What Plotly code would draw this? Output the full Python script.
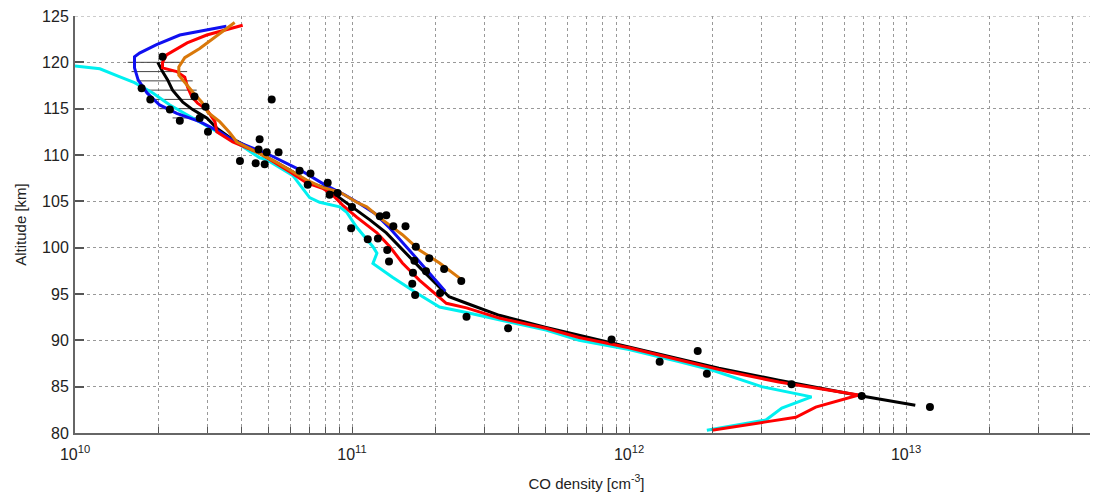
import plotly.graph_objects as go

# ---- data ----
blue_x = [3.52e10, 2.39e10, 1.97e10, 1.71e10, 1.64e10, 1.64e10, 1.69e10, 1.82e10, 2.02e10, 2.33e10,
          2.82e10, 3.33e10, 3.71e10, 3.94e10, 5.05e10, 6.48e10, 7.96e10, 9.4e10, 1.06e11, 1.21e11,
          1.37e11, 1.55e11, 1.75e11, 1.98e11, 2.17e11]
blue_y = [123.9, 122.95, 121.9, 121.0, 120.6, 119.4, 118.1, 116.7, 115.4, 114.5,
          113.6, 112.5, 111.6, 111.3, 110.0, 108.4, 106.8, 105.7, 104.8, 103.7,
          102.1, 100.3, 98.5, 96.7, 95.3]

orange_x = [3.77e10, 3.25e10, 2.82e10, 2.49e10, 2.37e10, 2.37e10, 2.49e10, 2.66e10, 2.87e10, 3.02e10,
            3.33e10, 3.62e10, 3.84e10, 4.38e10, 5.35e10, 6.86e10, 7.83e10, 9.02e10, 1.04e11, 1.13e11,
            1.29e11, 1.52e11, 1.75e11, 2.07e11, 2.5e11]
orange_y = [124.3, 122.9, 121.5, 120.5, 119.5, 118.6, 117.8, 116.8, 115.7, 114.6,
            113.6, 112.4, 111.4, 110.5, 109.2, 107.3, 106.5, 106.0, 104.9, 104.4,
            103.0, 101.4, 99.75, 98.35, 96.5]

red_x = [4.03e10, 3.52e10, 2.99e10, 2.54e10, 2.14e10, 2.07e10, 2.07e10, 2.33e10, 2.49e10, 2.55e10,
         2.64e10, 2.77e10, 2.99e10, 3.2e10, 3.25e10, 3.71e10, 4.64e10, 5.96e10, 6.86e10, 7.83e10,
         8.51e10, 9.25e10, 1.04e11, 1.23e11, 1.37e11, 1.52e11, 1.75e11, 2.19e11, 2.59e11, 3.4e11,
         5.02e11, 6.6e11, 1.0e12, 1.51e12, 2.29e12, 3.47e12, 5.25e12, 6.75e12, 4.72e12, 4.0e12,
         3.12e12, 1.99e12]
red_y = [124.0, 123.5, 122.95, 122.1, 120.8, 120.0, 119.4, 119.0, 118.4, 117.3,
         116.3, 115.6, 114.9, 113.6, 112.5, 111.4, 110.2, 108.2, 107.0, 106.4,
         105.7, 104.6, 103.3, 101.6, 100.1, 98.35, 96.5, 94.0, 93.5, 92.4,
         91.3, 90.3, 89.2, 87.9, 86.6, 85.5, 84.6, 84.1, 82.8, 81.7,
         81.2, 80.3]

black_x = [1.99e10, 2.07e10, 2.16e10, 2.25e10, 2.45e10, 2.66e10, 2.99e10, 3.25e10, 3.62e10, 4.64e10,
           6.11e10, 7.03e10, 8.09e10, 9.02e10, 1.04e11, 1.16e11, 1.33e11, 1.52e11, 1.75e11, 1.95e11,
           2.24e11, 2.59e11, 3.4e11, 5.02e11, 1.0e12, 2.11e12, 3.47e12, 6.92e12, 1.08e13]
black_y = [120.0, 119.0, 118.1, 117.0, 115.7, 114.9, 114.0, 112.9, 111.9, 110.2,
           108.2, 107.0, 106.4, 105.4, 104.1, 103.0, 101.6, 99.75, 97.9, 96.5,
           94.7, 94.0, 92.7, 91.4, 89.3, 87.0, 85.7, 84.0, 83.0]

cyan_x = [1.0e10, 1.23e10, 1.43e10, 1.64e10, 1.91e10, 2.2e10, 2.66e10, 3.25e10, 3.94e10, 4.64e10,
          4.92e10, 6.11e10, 7.03e10, 7.64e10, 9.02e10, 9.55e10, 1.04e11, 1.19e11, 1.23e11, 1.19e11,
          1.4e11, 1.71e11, 2.07e11, 2.59e11, 3.4e11, 5.02e11, 6.6e11, 1.0e12, 1.51e12, 1.99e12,
          3.01e12, 4.56e12, 3.56e12, 3.12e12, 1.91e12]
cyan_y = [119.6, 119.3, 118.5, 117.8, 116.7, 115.4, 114.0, 112.5, 111.1, 109.7,
          109.5, 107.8, 105.4, 104.9, 104.4, 103.85, 102.2, 100.1, 99.4, 98.3,
          96.8, 95.1, 93.6, 93.0, 92.2, 91.1, 90.0, 89.0, 87.7, 86.8,
          85.0, 83.9, 82.7, 81.4, 80.3]

# horizontal error bars on the black profile
err_alt = [120, 119, 118, 117, 116, 115, 114]
err_lo = [1.55e10, 1.6e10, 1.67e10, 1.76e10, 1.86e10, 2.02e10, 2.25e10]
err_hi = [2.39e10, 2.54e10, 2.66e10, 2.75e10, 2.82e10, 2.89e10, 2.99e10]

# measured points
pts_x = [2.07e10, 1.74e10, 1.87e10, 2.2e10, 2.39e10, 2.7e10, 2.96e10, 2.82e10, 3.02e10, 5.13e10,
         4.64e10, 4.6e10, 4.92e10, 5.43e10, 3.94e10, 4.49e10, 4.84e10, 6.47e10, 7.08e10, 6.92e10,
         8.17e10, 8.3e10, 8.87e10, 1.0e11, 9.93e10, 1.14e11, 1.24e11, 1.26e11, 1.33e11, 1.41e11,
         1.56e11, 1.34e11, 1.36e11, 1.7e11, 1.68e11, 1.66e11, 1.85e11, 1.9e11, 2.15e11, 2.48e11,
         1.65e11, 1.69e11, 2.08e11, 2.59e11, 3.66e11, 8.65e11, 1.29e12, 1.77e12, 1.91e12, 3.86e12,
         6.92e12, 1.22e13]
pts_y = [120.6, 117.2, 116.0, 114.9, 113.7, 116.3, 115.2, 114.0, 112.5, 116.0,
         111.7, 110.6, 110.3, 110.3, 109.35, 109.1, 109.0, 108.3, 108.0, 106.8,
         107.0, 105.7, 105.9, 104.4, 102.1, 100.9, 101.0, 103.4, 103.5, 102.3,
         102.3, 99.75, 98.5, 100.1, 98.6, 97.3, 97.45, 98.85, 97.7, 96.4,
         96.1, 94.9, 95.1, 92.55, 91.3, 90.1, 87.7, 88.85, 86.4, 85.25,
         84.0, 82.8]

x_decades = [10, 11, 12, 13]
y_ticks = [80, 85, 90, 95, 100, 105, 110, 115, 120, 125]

# ---- figure ----
fig = go.Figure()

ex, ey = [], []
for a, lo, hi in zip(err_alt, err_lo, err_hi):
    ex += [lo, hi, None]
    ey += [a, a, None]
fig.add_trace(go.Scatter(x=ex, y=ey, mode="lines", line=dict(color="#444444", width=1),
                         showlegend=False, hoverinfo="skip"))

LW = 3
fig.add_trace(go.Scatter(x=cyan_x, y=cyan_y, mode="lines", line=dict(color="#00F0F0", width=LW), showlegend=False))
fig.add_trace(go.Scatter(x=black_x, y=black_y, mode="lines", line=dict(color="#000000", width=LW), showlegend=False))
fig.add_trace(go.Scatter(x=blue_x, y=blue_y, mode="lines", line=dict(color="#1010F0", width=LW), showlegend=False))
fig.add_trace(go.Scatter(x=red_x, y=red_y, mode="lines", line=dict(color="#FF0000", width=LW), showlegend=False))
fig.add_trace(go.Scatter(x=orange_x, y=orange_y, mode="lines", line=dict(color="#D9780A", width=LW), showlegend=False))
fig.add_trace(go.Scatter(x=pts_x, y=pts_y, mode="markers", marker=dict(color="black", size=8),
                         showlegend=False))

major_vals = [10 ** d for d in x_decades]
major_text = [f"10<sup>{d}</sup>" for d in x_decades]
minor_vals = [k * 10 ** d for d in x_decades for k in range(2, 10) if k * 10 ** d < 4.5e13]

# page body has an 8px default margin, so the figure is sized/offset to compensate
fig.update_layout(
    width=1090, height=488,
    margin=dict(l=67, r=0, t=8, b=63, autoexpand=False),
    paper_bgcolor="white", plot_bgcolor="white",
    font=dict(family="Liberation Sans, Arial, sans-serif", color="#222222", size=15),
    shapes=[dict(type="line", xref="paper", yref="y", x0=0, x1=1, y0=y_ticks[-1], y1=y_ticks[-1],
                 line=dict(color="#999999", width=1, dash="dot"), layer="below")],
)
fig.update_xaxes(
    type="log", range=[10, 13.693], automargin=False,
    tickmode="array", tickvals=major_vals, ticktext=major_text,
    ticks="inside", ticklen=6, tickcolor="#555555", tickwidth=1,
    showgrid=True, gridcolor="#999999", griddash="dot", gridwidth=1,
    minor=dict(tickmode="array", tickvals=minor_vals, ticks="inside", ticklen=6,
               tickcolor="#555555", tickwidth=1,
               showgrid=True, gridcolor="#999999", griddash="dot", gridwidth=1),
    showline=True, linecolor="#666666", linewidth=2, mirror=False,
    zeroline=False, ticklabelstandoff=6, ticklabeloverflow="allow",
    tickfont=dict(size=16),
    title=dict(text="CO density [cm<sup>-3</sup>]", font=dict(size=15), standoff=16),
)
fig.update_yaxes(
    range=[80, 125], tickvals=y_ticks, automargin=False,
    ticks="inside", ticklen=9, tickcolor="#555555", tickwidth=2,
    showgrid=True, gridcolor="#999999", griddash="dot", gridwidth=1,
    showline=True, linecolor="#666666", linewidth=2, mirror=False,
    zeroline=False, ticklabelstandoff=1, ticklabeloverflow="allow",
    tickfont=dict(size=16),
    title=dict(text="Altitude [km]", font=dict(size=15), standoff=12),
)

fig.write_html("out.html")
